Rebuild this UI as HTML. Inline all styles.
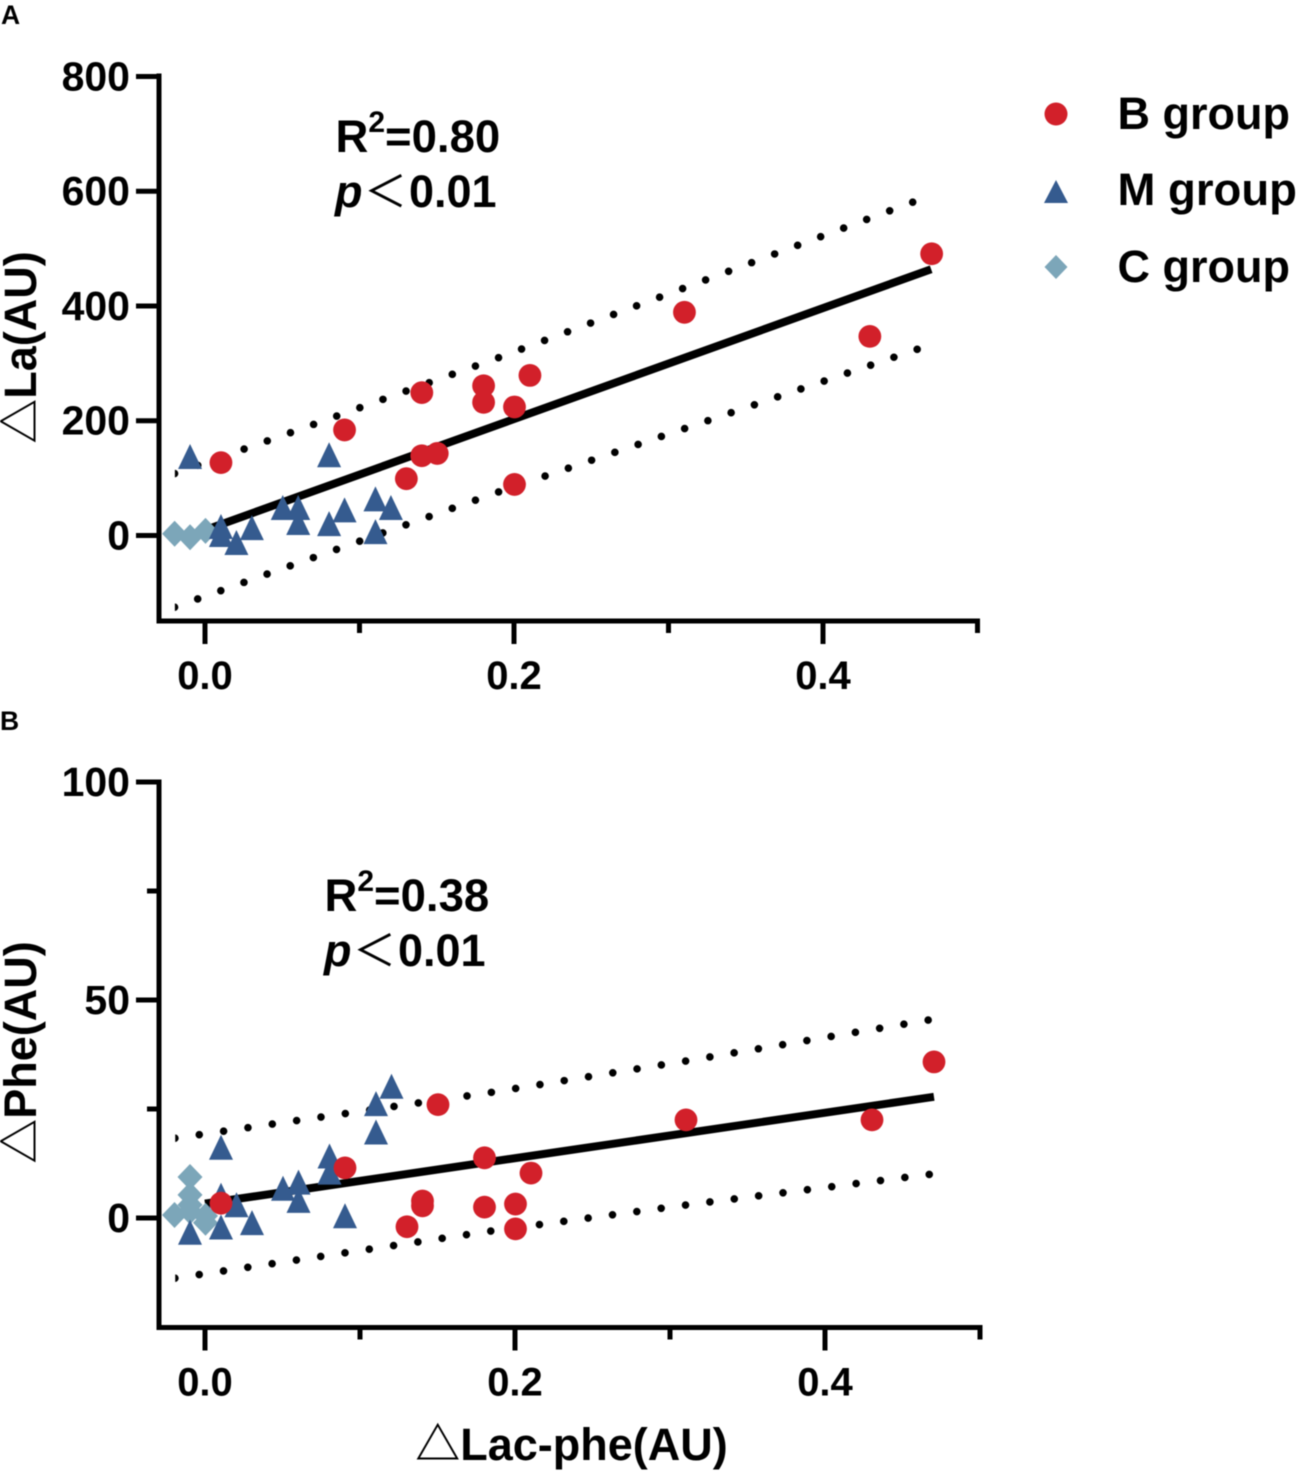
<!DOCTYPE html>
<html lang="en">
<head>
<meta charset="utf-8">
<title>Lac-phe correlation scatter plots</title>
<style>
html,body{margin:0;padding:0;background:#fff;}
svg{display:block;filter:blur(0.5px);}
text{font-family:"Liberation Sans","Noto Sans CJK SC",sans-serif;font-weight:700;fill:#000;}
</style>
</head>
<body>
<svg id="fig" xmlns="http://www.w3.org/2000/svg" width="1299" height="1475" viewBox="0 0 1299 1475">
  <rect width="1299" height="1475" fill="#fff"/>
  <text x="1" y="24" font-size="26.5">A</text>
  <text x="0" y="730" font-size="26.5">B</text>
  <text x="335.5" y="152" font-size="45.5">R<tspan font-size="30" dy="-20">2</tspan><tspan dy="20">=0.80</tspan></text>
  <text y="207" font-size="45"><tspan x="335" font-style="italic">p</tspan><tspan x="364" font-weight="400" font-size="43" font-family="Noto Sans CJK SC">＜</tspan><tspan x="409">0.01</tspan></text>
  <text x="324.5" y="911" font-size="45.5">R<tspan font-size="30" dy="-20">2</tspan><tspan dy="20">=0.38</tspan></text>
  <text y="966" font-size="45"><tspan x="324" font-style="italic">p</tspan><tspan x="353" font-weight="400" font-size="43" font-family="Noto Sans CJK SC">＜</tspan><tspan x="398">0.01</tspan></text>
  <text transform="translate(36,347.5) rotate(-90)" text-anchor="middle" font-size="45"><tspan font-family="Noto Sans CJK SC" font-weight="700">△</tspan>La(AU)</text>
  <text transform="translate(36,1052.5) rotate(-90)" text-anchor="middle" font-size="45"><tspan font-family="Noto Sans CJK SC" font-weight="700">△</tspan>Phe(AU)</text>
  <text x="571.5" y="1460" text-anchor="middle" font-size="45"><tspan font-family="Noto Sans CJK SC" font-weight="700">△</tspan>Lac-phe(AU)</text>
  <g>
    <circle cx="1056" cy="114" r="11.5" fill="#d2202a"/>
    <polygon points="1056,180 1068,203 1044,203" fill="#355b8f"/>
    <polygon points="1056,255 1067.5,267 1056,279 1044.5,267" fill="#7ca6b9"/>
    <text x="1117.5" y="129" font-size="45">B group</text>
    <text x="1117.5" y="205" font-size="45.5">M group</text>
    <text x="1117.5" y="282" font-size="45">C group</text>
  </g>
</svg>
<script>
const xMajorTicks = [0, 0.2, 0.4];
const xMinorTicks = [0.1, 0.3, 0.5];
const xTickLabels = ["0.0", "0.2", "0.4"];

const yTicksA = [0, 200, 400, 600, 800];
const yTickLabelsA = ["0", "200", "400", "600", "800"];
const yMinorTicksA = [];
const yTicksB = [0, 50, 100];
const yTickLabelsB = ["0", "50", "100"];
const yMinorTicksB = [25, 75];

const bGroupX = [0.01, 0.09, 0.13, 0.14, 0.14, 0.15, 0.18, 0.18, 0.2, 0.2, 0.21, 0.31, 0.43, 0.47];
const bGroupA = [127, 184, 99, 249, 139, 143, 261, 232, 224, 89, 279, 389, 347, 491];
const bGroupB = [3.4, 11.5, -2, 3.9, 2.8, 26, 13.8, 2.5, 3.2, -2.5, 10.3, 22.5, 22.5, 35.8];

const mGroupXA = [-0.01, 0.01, 0.01, 0.02, 0.03, 0.05, 0.06, 0.06, 0.08, 0.08, 0.09, 0.11, 0.11, 0.12];
const mGroupA = [136, 14, 0, -14, 12, 47, 47, 21, 139, 19, 43, 62, 5, 47];
const mGroupXB = [-0.01, 0.01, 0.01, 0.01, 0.02, 0.03, 0.05, 0.06, 0.06, 0.08, 0.08, 0.09, 0.11, 0.11, 0.12];
const mGroupB = [-3.5, 16, -2.3, 5, 2.8, -1.3, 6.6, 8, 3.8, 14, 10.3, 0.3, 19.5, 26, 30];

const cGroupXA = [-0.02, -0.01, 0];
const cGroupA = [3, -3, 8];
const cGroupXB = [-0.02, -0.01, -0.01, -0.01, -0.01, 0, 0];
const cGroupB = [0.7, 9.4, 5.3, 3, 1.5, -1.1, 0.5];

const fitXA = [0, 0.47];
const fitA = [9.4, 464];
const fitXB = [0, 0.4703];
const fitB = [3.3, 27.8];

const upperXA = [-0.0197, 0.0552, 0.1901, 0.4581];
const upperA = [108, 179, 310, 581];
const lowerXA = [-0.0197, 0.055, 0.1901, 0.461];
const lowerA = [-125, -53, 76, 324.5];
const upperXB = [-0.0194, 0.1845, 0.3101, 0.4666];
const upperB = [18.3, 28.8, 36, 45.4];
const lowerXB = [-0.0194, 0.1845, 0.3105, 0.4673];
const lowerB = [-13.8, -3, 3, 10];

const NS = "http://www.w3.org/2000/svg";
const fig = document.getElementById("fig");

function make(tag, attrs, parent) {
  const el = document.createElementNS(NS, tag);
  Object.keys(attrs).forEach(function (k) { el.setAttribute(k, attrs[k]); });
  parent.appendChild(el);
  return el;
}

function drawPanel(p) {
  const sx = function (v) { return p.x0 + v * p.xScale; };
  const sy = function (v) { return p.y0 - v * p.yScale; };
  const mx = function (v) { return sx(v) + 0.5; };
  const g = make("g", {}, fig);
  
  

  const clipId = p.id + "-clip";
  const clip = make("clipPath", { id: clipId }, g);
  make("rect", { x: sx(p.upperX[0]) + 0.3, y: 0, width: 900, height: 1475 }, clip);

  // bands
  [[p.upperX, p.upper], [p.lowerX, p.lower]].forEach(function (band, i) {
    const pts = band[0].map(function (x, j) { return sx(x) + "," + sy(band[1][j]); }).join(" ");
    const ln = make("polyline", {
      points: pts, fill: "none",
      stroke: "#000", "stroke-width": 7.6, "stroke-linecap": "round",
      "clip-path": "url(#" + clipId + ")"
    }, g);
    const total = ln.getTotalLength();
    const step = total / Math.round(total / 24.6);
    ln.setAttribute("stroke-dasharray", "0 " + (step * 0.9999));
    
    
  });

  // fit line
  const fit = make("line", {
    x1: sx(p.fitX[0]), y1: sy(p.fit[0]), x2: sx(p.fitX[1]), y2: sy(p.fit[1]),
    stroke: "#000", "stroke-width": 8
  }, g);
  
  

  // axes
  const axisY = make("line", { x1: p.left, y1: p.top - 2.5, x2: p.left, y2: p.bottom + 2.5, stroke: "#000", "stroke-width": 5 }, g);
  
  
  const axisX = make("line", { x1: p.left - 2.5, y1: p.bottom, x2: sx(0.5) + 2.5, y2: p.bottom, stroke: "#000", "stroke-width": 5 }, g);
  
  

  xMajorTicks.forEach(function (v, i) {
    const t = make("line", { x1: sx(v), y1: p.bottom, x2: sx(v), y2: p.bottom + 23, stroke: "#000", "stroke-width": 5 }, g);
    
    
    const l = make("text", { x: sx(v), y: p.bottom + 68, "text-anchor": "middle", "font-size": 40 }, g);
    l.textContent = xTickLabels[i];
    
    
  });
  xMinorTicks.forEach(function (v) {
    const t = make("line", { x1: sx(v), y1: p.bottom, x2: sx(v), y2: p.bottom + 12, stroke: "#000", "stroke-width": 5 }, g);
    
    
  });
  p.yTicks.forEach(function (v, i) {
    const t = make("line", { x1: p.left - 23, y1: sy(v), x2: p.left, y2: sy(v), stroke: "#000", "stroke-width": 5 }, g);
    
    
    const l = make("text", { x: p.left - 29, y: sy(v) + 14, "text-anchor": "end", "font-size": 41 }, g);
    l.textContent = p.yLabels[i];
    
    
  });
  p.yMinor.forEach(function (v) {
    const t = make("line", { x1: p.left - 12, y1: sy(v), x2: p.left, y2: sy(v), stroke: "#000", "stroke-width": 5 }, g);
    
    
  });

  // C group
  p.cX.forEach(function (v, i) {
    const cx = mx(v), cy = sy(p.cY[i]);
    const d = make("polygon", {
      points: [[cx, cy - 13], [cx + 12.5, cy], [cx, cy + 13], [cx - 12.5, cy]].join(" "),
      fill: "#7ca6b9"
    }, g);
    
    
  });
  // M group
  p.mX.forEach(function (v, i) {
    const cx = mx(v), cy = sy(p.mY[i]);
    const t = make("polygon", {
      points: [[cx, cy - 13.5], [cx + 12, cy + 11.5], [cx - 12, cy + 11.5]].join(" "),
      fill: "#355b8f"
    }, g);
    
    
  });
  // B group
  bGroupX.forEach(function (v, i) {
    const c = make("circle", { cx: mx(v), cy: sy(p.bY[i]), r: 11.4, fill: "#d2202a" }, g);
    
    
  });
}

drawPanel({
  id: "panel-a", x0: 205, xScale: 1545, y0: 535.5, yScale: 0.5738,
  left: 159, top: 76, bottom: 621,
  yTicks: yTicksA, yLabels: yTickLabelsA, yMinor: yMinorTicksA,
  fitX: fitXA, fit: fitA, upperX: upperXA, upper: upperA, lowerX: lowerXA, lower: lowerA,
  bY: bGroupA, mX: mGroupXA, mY: mGroupA, cX: cGroupXA, cY: cGroupA
});
drawPanel({
  id: "panel-b", x0: 205, xScale: 1550, y0: 1218, yScale: 4.36,
  left: 159, top: 782, bottom: 1327.5,
  yTicks: yTicksB, yLabels: yTickLabelsB, yMinor: yMinorTicksB,
  fitX: fitXB, fit: fitB, upperX: upperXB, upper: upperB, lowerX: lowerXB, lower: lowerB,
  bY: bGroupB, mX: mGroupXB, mY: mGroupB, cX: cGroupXB, cY: cGroupB
});
</script>
</body>
</html>
